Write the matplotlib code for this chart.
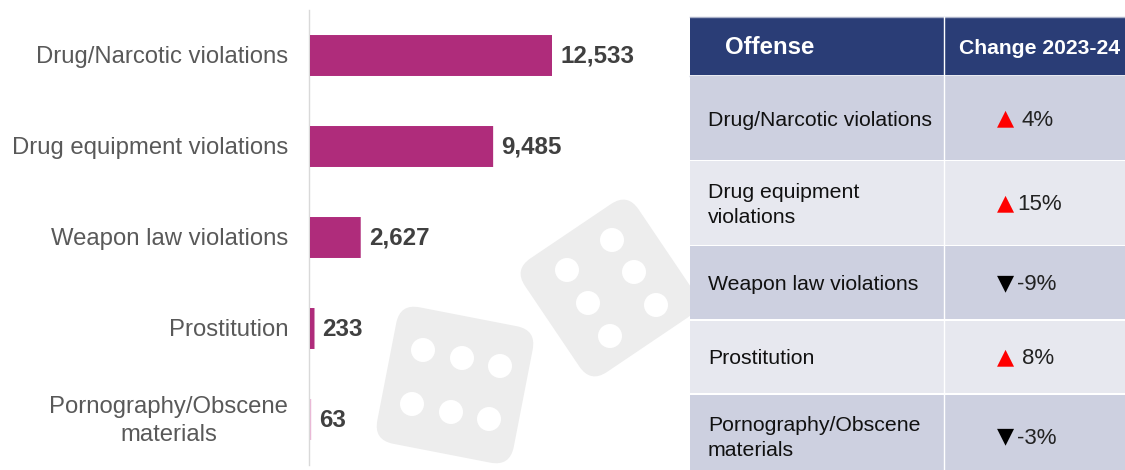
import matplotlib
matplotlib.use("Agg")
import matplotlib.pyplot as plt
from matplotlib.patches import Rectangle, Circle, FancyBboxPatch
from matplotlib.transforms import Affine2D, ScaledTranslation

plt.rcParams['font.family'] = ['Liberation Sans', 'DejaVu Sans']

offenses = ["Drug/Narcotic violations", "Drug equipment violations", "Weapon law violations",
            "Prostitution", "Pornography/Obscene\nmaterials"]
counts = [12533, 9485, 2627, 233, 63]

table_offenses = ["Drug/Narcotic violations", "Drug equipment\nviolations", "Weapon law violations",
                  "Prostitution", "Pornography/Obscene\nmaterials"]
changes = [4, 15, -9, 8, -3]

W, H = 1125, 470
fig = plt.figure(figsize=(W / 100, H / 100), dpi=100)

# background layer in pixel coords, dice + table
bg = fig.add_axes([0, 0, 1, 1])
bg.set_xlim(0, W)
bg.set_ylim(H, 0)
bg.axis("off")

dice_col = "#ededed"


def die(cx, cy, size, angle, pips):
    tr = Affine2D().rotate_deg(angle).translate(cx, cy) + bg.transData
    r = 20
    bg.add_patch(FancyBboxPatch((-size / 2 + r, -size / 2 + r), size - 2 * r, size - 2 * r,
                                boxstyle="round,pad=%d,rounding_size=%d" % (r, r),
                                fc=dice_col, ec="none", transform=tr, zorder=1))
    for px, py in pips:
        bg.add_patch(Circle((px, py), 12, fc="white", ec="none", zorder=2))


die(609, 288, 137, -34, [(612, 240), (567, 270), (634, 272), (588, 303), (656, 305), (610, 336)])
die(455, 385, 139, 11, [(423, 350), (462, 358), (500, 366), (412, 404), (451, 412), (489, 419)])

# table
tx0, tx1, tx2 = 690, 944, 1125
bg.add_patch(Rectangle((tx0, 17), tx2 - tx0, 58, fc="#2a3d76", ec="none", zorder=3))
bg.plot([tx0, tx2], [16.5, 16.5], color="#aab1c8", lw=1, zorder=3)
bg.plot([tx0, tx2], [75.5, 75.5], color="#8b94b8", lw=1, zorder=3)
bg.text(725, 48, "Offense", color="white", fontsize=17.3, fontweight="bold", va="center", zorder=5)
bg.text(1039.5, 49, "Change 2023-24", color="white", fontsize=15.2, fontweight="bold",
        ha="center", va="center", zorder=5)

row_edges = [(76, 159.5), (161, 244.5), (246, 319), (320.5, 393), (394.5, 470)]
row_cols = ["#cdd0e0", "#e7e8ef", "#cdd0e0", "#e7e8ef", "#cdd0e0"]
row_text_y = [120, 205, 285, 359, 438]
change_y = [120, 205, 285, 359, 438]

for i in range(5):
    y0, y1 = row_edges[i]
    bg.add_patch(Rectangle((tx0, y0), tx2 - tx0, y1 - y0, fc=row_cols[i], ec="none", zorder=3))
    bg.text(708, row_text_y[i], table_offenses[i], color="#111111", fontsize=15.3,
            va="center", linespacing=1.43, zorder=5)
    up = changes[i] > 0
    val = abs(changes[i]) if up else changes[i]
    # single digit ups have a gap after the triangle
    tx = 1022 if up and val < 10 else 1017
    bg.text(1005.5, change_y[i] - 2, "▲" if up else "▼", color="#ff0000" if up else "black", fontsize=16,
            ha="center", va="center", family=["DejaVu Sans"], zorder=5)
    bg.text(tx, change_y[i], "%d%%" % val, color="#222222", fontsize=16, va="center", zorder=5)

bg.plot([tx1, tx1], [17, H], color="white", lw=1, zorder=4)

# bars
px_per_unit = 242 / 12533
ax = fig.add_axes([310 / W, (H - 465) / H, 380 / W, 455 / H])
ax.patch.set_alpha(0)
for s in ["top", "right", "bottom"]:
    ax.spines[s].set_visible(False)
ax.spines["left"].set_color("#d9d9d9")
ax.spines["left"].set_linewidth(1)
ax.spines["left"].set_position(("outward", 0.7))

# the 63 bar is under 2px wide and comes out pale in the original
bar_cols = ["#af2c7b", "#af2c7b", "#af2c7b", "#af2c7b", "#e9b9d6"]
ax.barh(range(5), counts, height=0.45, color=bar_cols, zorder=3, snap=False)
ax.set_xlim(0, 380 / px_per_unit)
ax.set_ylim(4.5, -0.5)
ax.set_xticks([])
ax.set_yticks(range(5))
ax.set_yticklabels(offenses, fontsize=17.2, color="#595959", multialignment="center", linespacing=1.33)
ax.tick_params(axis="y", length=0, pad=15)

# labels sit a pixel above the bar centres, the two line one a bit more
for lab in ax.get_yticklabels():
    up_px = 4 if "\n" in lab.get_text() else 1
    lab.set_transform(lab.get_transform() + ScaledTranslation(0, up_px / 100, fig.dpi_scale_trans))

for i, c in enumerate(counts):
    ax.annotate(f"{c:,}", (c, i), xytext=(5.8, -0.7), textcoords="offset points", va="center",
                fontsize=17.4, fontweight="bold", color="#404040")

fig.savefig("out.png", dpi=100)
